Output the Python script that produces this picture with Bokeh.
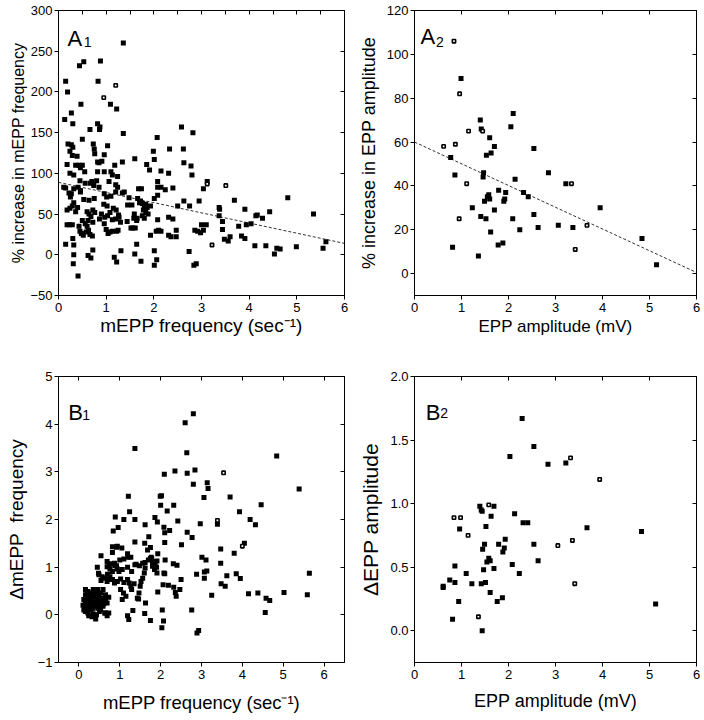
from bokeh.plotting import figure
from bokeh.models import LinearAxis, FixedTicker, Range1d, Label, PrintfTickFormatter
from bokeh.layouts import gridplot
from bokeh.embed import file_html
from bokeh.resources import INLINE

FONT = "Liberation Sans"

# ---------------- Panel A1: % increase in mEPP frequency vs mEPP frequency
a1_freq = [1.36, 0.44, 0.53, 0.88, 0.15, 0.19, 0.83, 1.09, 1.22, 0.47, 0.13, 0.27, 0.30, 0.82,
           0.87, 0.86, 0.66, 2.58, 2.82, 1.36,
           2.07, 0.50, 0.20, 0.27, 0.30, 0.73, 0.75, 1.03, 2.33, 2.62, 0.24, 0.29, 0.76, 0.96,
           0.39, 1.99, 2.01, 1.60, 0.18, 0.36, 0.43, 0.46, 0.50, 0.82, 0.91, 0.85, 1.34, 1.85,
           1.91, 2.63, 2.78, 2.80, 0.24, 0.32, 0.55, 0.82, 0.96, 1.10, 1.18, 2.15, 2.31, 1.13,
           1.06, 1.24, 2.08, 0.45, 0.56, 0.41, 0.46, 0.67, 0.70, 0.74, 0.80, 0.85, 0.15, 0.11,
           0.32, 1.20, 1.24, 1.68, 1.74, 2.08, 2.15, 2.24, 2.40, 3.04, 3.12, 0.22, 0.27,
           0.25, 0.46, 0.53, 0.64, 0.75, 0.96, 1.01, 1.10, 1.20, 1.34, 1.38, 1.48, 1.54, 1.45,
           1.66, 1.72, 1.76, 1.80, 1.86, 1.70, 1.78, 1.83, 2.01, 2.08, 1.93, 2.50, 2.63, 2.75,
           2.95, 3.37, 3.38, 3.69, 3.91, 4.17, 4.28, 4.43, 4.81, 5.35, 0.18, 0.24, 0.29, 0.32,
           0.40, 0.36, 0.60, 0.64, 0.68, 0.72, 0.76, 0.90, 0.97, 1.03, 1.08, 1.21, 1.27, 1.26,
           1.44, 1.52, 1.56, 1.61, 0.18, 0.23, 0.29, 0.43, 0.45, 0.48, 0.52, 0.58, 0.63, 0.71,
           0.66, 1.00, 1.04, 1.08, 1.13, 1.25, 1.22, 1.13, 1.20, 1.59, 1.64, 1.93, 2.08, 2.10,
           2.05, 2.15, 2.31, 2.40, 2.31, 2.36, 2.47, 2.47, 2.86, 2.92, 2.98, 3.04, 3.00, 3.10,
           3.37, 3.44, 3.44, 3.48, 3.56, 3.60, 3.78, 3.94, 4.04, 4.14, 3.84, 3.91, 4.12,
           4.35, 4.53, 4.58, 4.65, 4.99, 5.55, 5.61, 0.15, 0.32, 0.32, 0.31, 0.41, 0.62, 0.68,
           0.72, 1.17, 1.22, 1.31, 1.64, 1.60, 1.73, 2.01, 2.06, 2.01, 2.74, 2.84, 2.89,
           0.30, 0.50, 0.56, 0.72, 0.86, 0.96, 1.30, 1.15, 1.02, 0.95, 0.62, 0.60, 1.58, 1.65,
           1.76, 1.83, 1.88, 1.80]
a1_pct = [260, 232, 237, 238, 213, 200, 213, 185, 179, 185, 166, 174, 161, 161,
          157, 154, 154, 157, 150, 149,
          144, 142, 136, 135, 132, 136, 130, 134, 130, 130, 127, 122, 124, 123,
          121, 127, 117, 118, 111, 110, 110, 107, 110, 114, 115, 113, 114, 111,
          104, 113, 109, 98, 100, 98, 102, 102, 102, 102, 110, 103, 100, 98,
          90, 96, 90, 91, 88, 83, 79, 88, 90, 85, 91, 83, 82, 83,
          81, 86, 83, 81, 81, 83, 83, 80, 82, 81, 90, 76, 75,
          71, 77, 68, 67, 69, 75, 71, 72, 77, 76, 77, 70, 61, 61,
          69, 66, 63, 60, 58, 64, 55, 62, 69, 73, 60, 60, 66, 60,
          66, 58, 56, 67, 56, 49, 45, 53, 70, 50, 55, 57, 60, 64,
          58, 53, 53, 50, 47, 55, 52, 50, 46, 48, 52, 55, 46, 49,
          41, 33, 33, 33, 37, 37, 37, 35, 29, 26, 24, 28, 30, 23,
          25, 31, 26, 28, 29, 30, 29, 43, 44, 50, 42, 24, 43, 30,
          29, 29, 46, 44, 24, 22, 30, 22, 30, 29, 27, 30, 37, 37,
          48, 41, 31, 19, 17, 22, 35, 37, 38, 48, 23, 20, 11,
          11, 1, 8, 7, 10, 8, 16, 13, 12, 0, -11, -26, -1, -4,
          6, -3, -9, 5, 13, 1, -8, 5, -6, -13, 4, -13, -11,
          20, 42, 38, 40, 44, 38, 40, 57, 60, 62, 42, 35, 45, 45,
          48, 52, 50, 45]
a1_open_freq = [1.20, 0.95, 3.51, 3.22, 3.12]
a1_open_pct = [208, 193, 85, 12, 87]
a1_fit_freq = [0, 6]
a1_fit_pct = [89, 14]

# ---------------- Panel A2: % increase in EPP amplitude vs EPP amplitude
a2_amp = [0.99, 1.40, 1.42, 2.10, 2.05, 1.60, 0.77, 1.70, 2.54, 1.63, 1.53, 0.86, 1.47, 1.46,
          2.85, 2.14, 3.22, 1.79, 1.94, 2.32, 2.42, 1.55, 1.58, 1.60, 1.49, 1.90, 1.92, 1.23,
          3.95, 1.70, 1.41, 1.52, 2.09, 2.54, 3.06, 3.37, 2.63, 2.24, 1.62, 4.84, 1.78, 1.88,
          0.81, 1.36, 5.15]
a2_pct = [89, 70, 66, 73, 67, 62, 53, 58, 57, 55, 54, 45, 46, 44,
          46, 43, 41, 38, 37, 37, 35, 35, 36, 34, 33, 33, 34, 30,
          30, 29, 26, 25, 25, 27, 22, 21, 21, 20, 19, 16, 13, 14,
          12, 8, 4]
a2_open_amp = [0.84, 0.96, 1.45, 1.15, 0.62, 0.87, 1.11, 0.95, 3.34, 3.67, 3.42]
a2_open_pct = [106, 82, 65, 65, 58, 59, 41, 25, 41, 22, 11]
a2_fit_amp = [0, 6]
a2_fit_pct = [60, 0.5]

# ---------------- Panel B1: delta mEPP frequency vs mEPP frequency
b1_freq = [2.80, 2.60, 1.37, 2.64, 4.84, 2.09, 2.35, 2.65, 2.84, 2.80, 3.14, 3.16, 5.39,
           1.21, 1.99, 2.02, 3.06, 3.70, 2.00, 2.32, 1.24, 2.16, 3.93, 4.46, 0.89, 1.10, 1.37,
           1.86, 1.92, 2.42, 4.19, 4.32, 3.39, 2.97, 1.62, 0.96, 0.84, 2.08, 2.10, 2.22, 2.65,
           2.77, 1.71, 1.37, 1.61, 2.10, 2.51, 3.47, 4.05, 0.94, 1.05, 1.75, 0.82, 0.54,
           1.19, 1.27, 1.68, 1.93, 1.77, 3.01, 3.11, 3.47, 3.80, 0.45, 0.74, 0.88, 1.40, 1.62,
           1.70, 1.75, 1.80, 1.86, 1.90, 2.11, 2.31, 2.40, 0.48, 0.54, 0.70, 0.76, 2.08, 2.10,
           2.50, 2.88, 3.07, 3.13, 3.07, 3.62, 3.85, 3.95, 5.64, 3.48, 3.58, 2.06, 2.19, 2.32,
           2.36, 2.38, 2.47, 1.93, 3.25, 4.15, 4.38, 4.58, 4.67, 5.02, 5.59, 4.56, 2.76, 2.04,
           1.32, 1.19, 1.22, 1.61, 1.75, 2.07, 2.03, 2.89, 2.93, 1.46, 1.63,
           0.82, 0.92, 0.69, 0.77, 0.87, 0.92, 1.00, 1.10, 1.20, 0.69, 0.76, 0.82, 0.94, 0.98,
           1.06, 1.19, 1.29, 1.37, 1.48, 1.56, 1.62, 1.78, 1.86, 1.91, 1.80, 1.85, 1.91,
           1.60, 1.56, 1.52, 1.50, 0.49, 0.57, 0.63, 0.69, 0.73, 0.82, 0.87, 0.94, 1.02, 1.10,
           1.19, 1.23, 1.27, 1.35, 1.29, 1.02, 1.09, 1.15, 1.06, 1.43, 1.47,
           0.16, 0.22, 0.28, 0.35, 0.41, 0.46, 0.53, 0.59, 0.65,
           0.16, 0.22, 0.28, 0.35, 0.41, 0.49, 0.57, 0.65, 0.73,
           0.12, 0.18, 0.25, 0.31, 0.38, 0.46, 0.53, 0.61, 0.69,
           0.14, 0.20, 0.26, 0.33, 0.40, 0.46, 0.53, 0.59,
           0.16, 0.22, 0.28, 0.35, 0.43, 0.50, 0.63, 0.69, 0.73,
           0.32, 0.41, 0.24, 0.65, 0.10, 0.12, 0.18, 0.25, 0.30, 0.37, 0.44, 0.48, 0.20, 0.30,
           0.42, 0.15]
b1_delta = [4.22, 4.03, 3.49, 3.40, 3.33, 2.95, 3.02, 2.97, 3.04, 2.74, 2.77, 2.65, 2.64,
            2.49, 2.49, 2.50, 2.46, 2.47, 2.30, 2.30, 2.16, 2.18, 2.16, 2.31, 2.05, 2.00, 2.00,
            2.04, 1.95, 1.97, 2.00, 1.89, 1.90, 1.91, 1.89, 1.83, 1.76, 1.84, 1.72, 1.77, 1.73,
            1.62, 1.64, 1.53, 1.50, 1.52, 1.47, 1.38, 1.50, 1.44, 1.40, 1.41, 1.31, 1.24,
            1.28, 1.21, 1.36, 1.28, 1.21, 1.21, 1.15, 1.08, 1.29, 1.00, 1.01, 1.03, 1.06, 1.10,
            1.15, 1.18, 1.12, 1.05, 1.00, 1.15, 1.07, 1.04, 0.87, 0.72, 0.85, 0.80, 0.88, 0.86,
            0.74, 0.85, 0.90, 0.92, 0.77, 0.82, 0.86, 0.76, 0.87, 0.65, 0.60, 0.63, 0.62, 0.58,
            0.47, 0.39, 0.53, 0.48, 0.41, 0.44, 0.46, 0.35, 0.30, 0.47, 0.42, 0.05, 0.10, 0.10,
            0.09, -0.02, -0.10, 0.03, -0.12, -0.13, -0.27, -0.38, -0.33, 0.33, 0.25,
            1.43, 1.42, 1.12, 1.07, 1.08, 1.03, 1.15, 1.17, 1.21, 1.01, 0.96, 0.91, 0.96, 0.91,
            0.95, 1.00, 0.91, 1.05, 1.03, 1.08, 0.98, 1.18, 1.09, 1.13, 1.02, 0.95, 0.88,
            0.88, 0.77, 0.70, 0.60, 0.84, 0.80, 0.77, 0.70, 0.74, 0.74, 0.67, 0.70, 0.75, 0.68,
            0.74, 0.67, 0.60, 0.65, 0.53, 0.53, 0.46, 0.39, 0.32, 0.35, 0.46,
            0.53, 0.49, 0.46, 0.53, 0.49, 0.53, 0.46, 0.53, 0.42,
            0.42, 0.39, 0.35, 0.40, 0.37, 0.39, 0.35, 0.32, 0.37,
            0.32, 0.28, 0.25, 0.30, 0.26, 0.25, 0.28, 0.23, 0.25,
            0.18, 0.14, 0.18, 0.12, 0.18, 0.14, 0.11, 0.18,
            0.07, 0.04, 0.10, 0.02, 0.00, 0.07, 0.04, -0.02, 0.04,
            -0.04, -0.09, -0.02, 0.04, 0.20, 0.10, 0.22, 0.33, 0.20, 0.45, 0.30, 0.20, 0.45, 0.42,
            0.42, 0.30]
b1_open_freq = [3.54, 3.39, 4.00]
b1_open_delta = [2.98, 1.98, 1.44]

# ---------------- Panel B2: delta EPP amplitude vs EPP amplitude
b2_amp = [2.29, 2.54, 2.03, 3.22, 2.84, 1.39, 1.42, 1.44, 1.69, 1.63, 2.13, 2.31, 2.41, 0.96,
          1.52, 3.67, 4.83, 1.93, 1.79, 1.49, 2.54, 1.45, 1.91, 1.88, 1.58, 1.54, 1.61, 0.86,
          2.08, 2.63, 1.69, 1.47, 1.10, 2.23, 0.75, 0.86, 0.61, 0.61, 1.22, 1.42, 1.51, 1.61,
          0.94, 1.76, 1.87, 5.13, 0.81, 1.44]
b2_delta = [1.67, 1.45, 1.37, 1.32, 1.31, 0.98, 0.95, 0.94, 0.98, 0.90, 0.92, 0.85, 0.85, 0.80,
            0.82, 0.81, 0.78, 0.72, 0.68, 0.68, 0.68, 0.64, 0.65, 0.62, 0.57, 0.54, 0.55, 0.51,
            0.52, 0.55, 0.49, 0.48, 0.45, 0.45, 0.40, 0.38, 0.35, 0.34, 0.37, 0.37, 0.38, 0.30,
            0.23, 0.23, 0.26, 0.21, 0.09, 0.00]
b2_open_amp = [3.32, 3.94, 1.58, 0.84, 0.98, 1.14, 3.05, 3.36, 3.41, 1.36]
b2_open_delta = [1.36, 1.19, 0.99, 0.89, 0.89, 0.75, 0.67, 0.71, 0.37, 0.11]

# tick positions
x_ticks_06 = [0, 1, 2, 3, 4, 5, 6]
a1_y_ticks = [-50, 0, 50, 100, 150, 200, 250, 300]
a1_top_ticks = [0.5 * i for i in range(13)]
a2_y_ticks = [0, 20, 40, 60, 80, 100, 120]
b1_y_ticks = [-1, 0, 1, 2, 3, 4, 5]
b2_y_ticks = [0.0, 0.5, 1.0, 1.5, 2.0]


def make_panel(width, height, bl, br, bt, bb, xr, yr, xticks, yticks, top_ticks,
               xlabel, ylabel, xsize, ysize, xstand, ystand):
    p = figure(width=width, height=height, x_range=Range1d(*xr), y_range=Range1d(*yr),
               output_backend="svg", toolbar_location=None,
               min_border_left=bl, min_border_right=br, min_border_top=bt, min_border_bottom=bb)
    p.xgrid.visible = False
    p.ygrid.visible = False
    p.outline_line_color = "black"
    p.outline_line_alpha = 1.0
    p.outline_line_width = 1
    p.background_fill_color = "white"
    p.border_fill_color = "white"
    p.xaxis.ticker = FixedTicker(ticks=xticks)
    p.yaxis.ticker = FixedTicker(ticks=yticks)
    for ax in (p.xaxis, p.yaxis):
        ax.axis_line_color = "black"
        ax.major_tick_line_color = "black"
        ax.major_tick_in = 0
        ax.major_tick_out = 4
        ax.minor_tick_line_color = None
        ax.major_label_text_font = FONT
        ax.major_label_text_font_size = "13px"
        ax.major_label_text_color = "black"
        ax.axis_label_text_font = FONT
        ax.axis_label_text_font_style = "normal"
        ax.axis_label_text_color = "black"
    p.xaxis.major_label_standoff = 3
    p.yaxis.major_label_standoff = 2
    p.xaxis.axis_label = xlabel
    p.yaxis.axis_label = ylabel
    p.xaxis.axis_label_text_font_size = xsize
    p.yaxis.axis_label_text_font_size = ysize
    p.xaxis.axis_label_standoff = xstand
    p.yaxis.axis_label_standoff = ystand
    p.yaxis.major_label_orientation = "horizontal"
    # tick marks only (no labels) on the top and right frame edges, pointing inward
    top = LinearAxis(ticker=FixedTicker(ticks=top_ticks), major_label_text_font_size="0px",
                     major_label_text_color=None, major_label_text_alpha=0,
                     major_tick_in=4, major_tick_out=0, major_label_standoff=0,
                     minor_tick_line_color=None, axis_line_color="black")
    right = LinearAxis(ticker=FixedTicker(ticks=yticks), major_label_text_font_size="0px",
                       major_label_text_color=None, major_label_text_alpha=0,
                       major_tick_in=4, major_tick_out=0, major_label_standoff=0,
                       minor_tick_line_color=None, axis_line_color="black")
    p.add_layout(top, "above")
    p.add_layout(right, "right")
    return p


def add_points(p, x, y, ox, oy):
    p.scatter(x, y, marker="square", size=5, fill_color="black", line_color=None)
    p.scatter(ox, oy, marker="square", size=3.3, fill_color="white", line_color="black",
              line_width=1.6)


def add_tag(p, letter, sub, lx, ly, sx, sy):
    p.add_layout(Label(x=lx, y=ly, text=letter, text_font=FONT, text_font_size="22px",
                       text_color="black", text_baseline="alphabetic"))
    p.add_layout(Label(x=sx, y=sy, text=sub, text_font=FONT, text_font_size="14px",
                       text_color="black", text_baseline="alphabetic"))


freq_label = "mEPP frequency (sec\u207b\u00b9)"
amp_label = "EPP amplitude (mV)"

pA1 = make_panel(352, 360, 58, 8, 10, 64, (0, 6), (-50, 300), x_ticks_06, a1_y_ticks,
                 a1_top_ticks, freq_label, "% increase in mEPP frequency",
                 "19px", "16px", 0, 0)
pA1.line(a1_fit_freq, a1_fit_pct, line_color="#333333", line_width=1, line_dash="3 2")
add_points(pA1, a1_freq, a1_pct, a1_open_freq, a1_open_pct)
add_tag(pA1, "A", "1", 0.19, 266, 0.53, 261)

pA2 = make_panel(352, 360, 62, 8, 10, 65, (0, 6), (-10, 120), x_ticks_06, a2_y_ticks,
                 x_ticks_06, amp_label, "% increase in EPP amplitude",
                 "17px", "18px", 2, 5)
pA2.line(a2_fit_amp, a2_fit_pct, line_color="#333333", line_width=1, line_dash="3 2")
add_points(pA2, a2_amp, a2_pct, a2_open_amp, a2_open_pct)
add_tag(pA2, "A", "2", 0.13, 108, 0.46, 105.5)

pB1 = make_panel(352, 360, 57, 7, 16, 57, (-0.5, 6.5), (-1, 5), x_ticks_06, b1_y_ticks,
                 x_ticks_06, freq_label, "\u0394mEPP\u00a0 frequency",
                 "18.5px", "19px", 10, 8)
add_points(pB1, b1_freq, b1_delta, b1_open_freq, b1_open_delta)
add_tag(pB1, "B", "1", -0.26, 4.24, 0.08, 4.19)

pB2 = make_panel(352, 360, 62, 7, 15, 58, (0, 6), (-0.25, 2.0), x_ticks_06, b2_y_ticks,
                 x_ticks_06, amp_label, "\u0394EPP amplitude",
                 "18px", "21px", 9, 5)
pB2.yaxis.formatter = PrintfTickFormatter(format="%.1f")
add_points(pB2, b2_amp, b2_delta, b2_open_amp, b2_open_delta)
add_tag(pB2, "B", "2", 0.24, 1.72, 0.55, 1.71)

grid = gridplot([[pA1, pA2], [pB1, pB2]], toolbar_location=None)

open("out.html", "w").write(file_html(grid, INLINE))
